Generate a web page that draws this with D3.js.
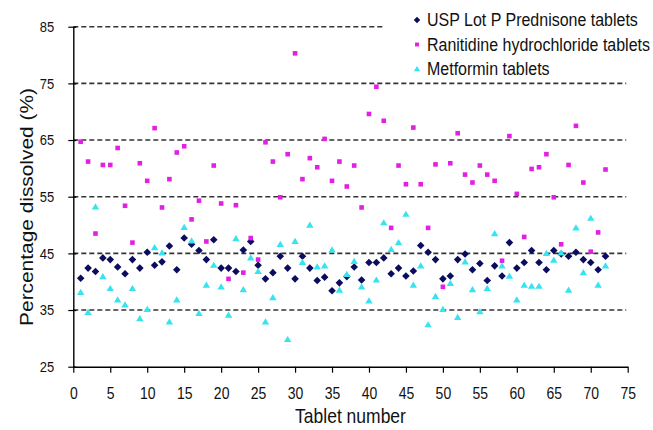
<!DOCTYPE html>
<meta charset="utf-8">
<html>
<head>
<style>
  body { margin: 0; background: #fff; }
  text { font-family: "Liberation Sans", Arial, sans-serif; fill: #111; }
</style>
</head>
<body>
<div id="chart"></div>
<script src="https://d3js.org/d3.v7.min.js"></script>
<script>

// tablet numbers 1..72
var tablets = [1,2,3,4,5,6,7,8,9,10,11,12,13,14,15,16,17,18,19,20,21,22,23,24,25,26,27,28,29,30,31,32,33,34,35,36,
  37,38,39,40,41,42,43,44,45,46,47,48,49,50,51,52,53,54,55,56,57,58,59,60,61,62,63,64,65,66,67,68,69,70,71,72];

var prednisone = [40.6,42.4,41.8,44.2,43.9,42.6,41.4,43.9,42.4,45.2,42.9,43.5,46.3,42.1,47.7,46.6,45.5,43.9,
  47.4,42.4,42.4,41.8,45.6,47.1,42.9,40.5,41.6,44.5,42.4,40.5,44.5,42.4,40.2,40.8,38.4,39.8,
  40.9,42.6,40.3,43.4,43.4,44.2,41.4,42.4,41.0,41.9,46.4,45.2,43.9,40.5,41.0,43.9,44.9,42.1,
  43.2,40.2,42.8,41.0,46.9,42.4,43.4,45.5,43.4,42.1,45.5,44.9,44.5,45.2,43.9,43.4,42.1,44.5];

var ranitidine = [64.7,61.2,48.5,60.6,60.6,63.6,53.4,46.9,60.9,57.8,67.1,53.1,58.1,62.8,63.9,51.0,54.3,47.1,
  60.5,53.8,40.5,53.5,41.6,47.7,43.9,64.6,61.2,54.9,62.5,80.3,58.1,61.8,60.2,65.2,57.8,61.2,
  56.8,60.5,53.1,69.6,74.4,68.4,49.5,60.5,57.2,67.2,57.2,49.5,60.7,39.1,60.9,66.2,58.9,57.5,
  60.5,58.9,57.8,43.7,65.7,55.5,47.9,59.9,60.2,62.5,54.9,46.6,60.6,67.5,57.5,45.3,48.7,59.8];

var metformin = [38.1,34.6,53.2,40.9,38.8,36.8,35.9,38.8,33.5,35.1,46.0,45.1,32.9,36.8,49.6,47.2,34.4,39.4,
  42.9,39.1,34.1,47.6,38.6,44.2,41.8,32.9,37.2,46.6,29.8,47.1,43.4,50.0,42.6,42.8,45.6,38.5,
  41.3,43.6,39.1,36.6,40.3,50.4,45.7,46.9,51.9,39.4,42.8,32.4,37.4,35.1,39.7,33.7,43.5,38.6,
  34.7,38.8,48.5,42.8,41.0,36.8,39.4,39.2,39.2,45.0,43.8,45.1,38.5,49.5,41.6,51.2,39.4,42.8];

var seriesNames = ["USP Lot P Prednisone tablets", "Ranitidine hydrochloride tablets", "Metformin tablets"];
var xTicks = [0,5,10,15,20,25,30,35,40,45,50,55,60,65,70,75];
var yTicks = [25,35,45,55,65,75,85];
var gridValues = [35,45,55,65,75,85];

var W = 653, H = 430;
var stretch = 1.12;   // text in the original looks vertically stretched

var svg = d3.select("#chart").append("svg")
  .attr("width", W).attr("height", H);

var x = d3.scaleLinear().domain([0, 75]).range([73.3, 627.7]);
var y = d3.scaleLinear().domain([25, 85]).range([366.7, 26.7]);

// marker shapes
var shapes = {
  diamond: "M0,-3.8L3.8,0L0,3.8L-3.8,0Z",
  square: "M-2.3,-2.3H2.3V2.3H-2.3Z",
  triangle: "M0,-3.6L3.7,2.6L-3.7,2.6Z"
};
var series = [
  {name: seriesNames[0], values: prednisone, color: "#0c0c5e", shape: shapes.diamond},
  {name: seriesNames[1], values: ranitidine, color: "#e21fe2", shape: shapes.square},
  {name: seriesNames[2], values: metformin, color: "#36e3ee", shape: shapes.triangle}
];

// dashed gridlines
svg.append("g").selectAll("line")
  .data(gridValues)
  .enter().append("line")
    .attr("x1", x(0))
    .attr("x2", function(d) { return d == 85 ? x(41.9) : x(74.8); })
    .attr("y1", function(d) { return y(d); })
    .attr("y2", function(d) { return y(d); })
    .attr("stroke", "#333")
    .attr("stroke-width", 1.6)
    .attr("stroke-dasharray", "5,3");

// axes
var yAxis = svg.append("g")
  .attr("transform", "translate(" + x(0) + ",0)")
  .call(d3.axisLeft(y).tickValues(yTicks).tickSizeInner(5).tickSizeOuter(0).tickPadding(14));
yAxis.selectAll(".tick line").attr("x1", 3);
yAxis.selectAll(".tick text")
  .attr("font-size", "13px")
  .attr("font-family", null)
  .attr("transform", "scale(1," + stretch + ")")
  .attr("y", 0);

var xAxis = svg.append("g")
  .attr("transform", "translate(0," + y(25) + ")")
  .call(d3.axisBottom(x).tickValues(xTicks).tickSizeInner(6).tickSizeOuter(0).tickPadding(0));
xAxis.selectAll(".tick text")
  .attr("font-size", "14px")
  .attr("font-family", null)
  .attr("y", 27 / stretch)
  .attr("dy", "0.35em")
  .attr("transform", "scale(1," + stretch + ")");

svg.selectAll(".domain").attr("stroke", "#000").attr("stroke-width", 1.4);
svg.selectAll(".tick line").attr("stroke", "#000").attr("stroke-width", 1.2);

// axis titles
svg.append("text")
  .attr("transform", "translate(" + 350.5 + ",423) scale(1," + stretch + ")")
  .attr("text-anchor", "middle")
  .attr("font-size", "17.5px")
  .text("Tablet number");

svg.append("text")
  .attr("transform", "translate(33,207) rotate(-90) scale(" + 1.16 + ",1)")
  .attr("text-anchor", "middle")
  .attr("font-size", "18px")
  .text("Percentage dissolved (%)");

// points
series.forEach(function(s) {
  svg.append("g").selectAll("path")
    .data(s.values)
    .enter().append("path")
      .attr("d", s.shape)
      .attr("fill", s.color)
      .attr("transform", function(d, i) {
        return "translate(" + x(tablets[i]) + "," + y(d) + ")";
      });
});

// legend
var legend = svg.append("g");
legend.append("rect")
  .attr("x", 384).attr("y", 4).attr("width", 269).attr("height", 76)
  .attr("fill", "#fff");
var rows = legend.selectAll("g.row")
  .data(series)
  .enter().append("g")
    .attr("class", "row")
    .attr("transform", function(d, i) { return "translate(417," + (20 + i * 24.5) + ")"; });
rows.append("path")
  .attr("d", function(d) { return d.shape; })
  .attr("fill", function(d) { return d.color; })
  .attr("transform", "scale(0.85)");
rows.append("text")
  .attr("x", 10)
  .attr("dy", "0.35em")
  .attr("font-size", "16px")
  .attr("transform", "scale(1," + stretch + ")")
  .text(function(d) { return d.name; });

</script>
</body>
</html>
